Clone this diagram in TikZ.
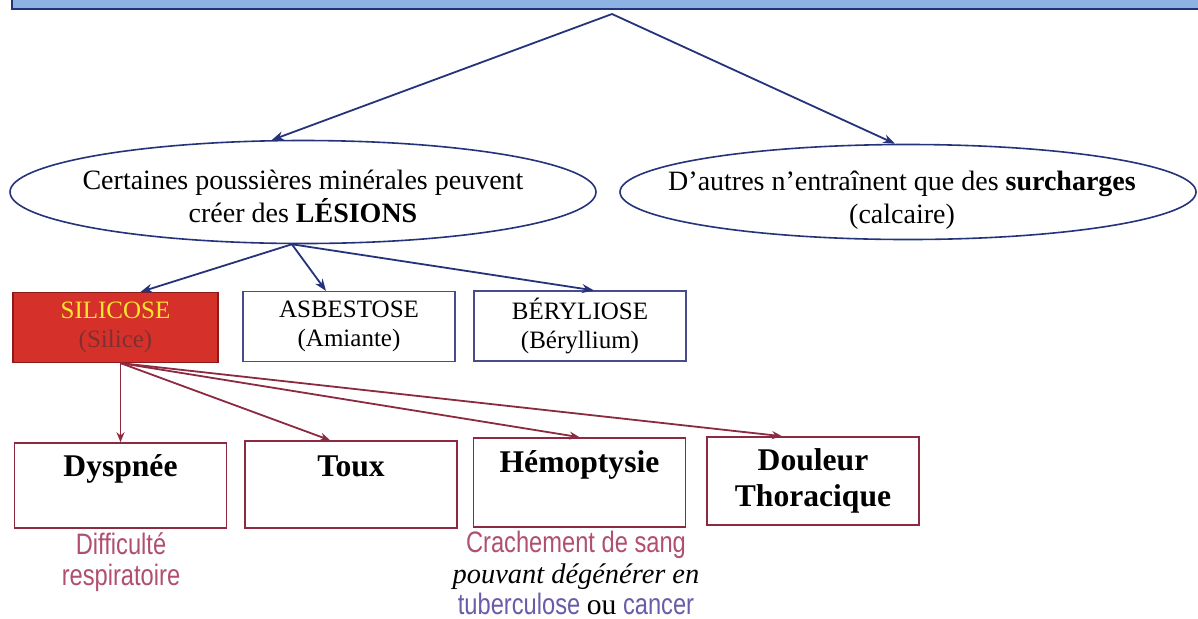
\documentclass[tikz,border=0pt]{standalone}
\usepackage{fontspec}
\setmainfont{Liberation Serif}
\newfontfamily\narrowsf[FakeStretch=0.8]{Liberation Sans}
\usetikzlibrary{shapes.geometric,arrows.meta,calc}
\definecolor{topfill}{HTML}{8DB3E2}
\definecolor{navy}{HTML}{25337A}
\definecolor{maroon}{HTML}{8B2A40}
\definecolor{silred}{HTML}{D6302A}
\definecolor{silborder}{HTML}{8B1A1A}
\definecolor{silyellow}{HTML}{F5E82A}
\definecolor{silbrown}{HTML}{7E3030}
\definecolor{boxblue}{HTML}{4A4A8E}
\definecolor{pinktext}{HTML}{B0506E}
\definecolor{purptext}{HTML}{6B5BA8}
\begin{document}
\begin{tikzpicture}[x=0.5pt,y=-0.5pt,
  ell/.style={ellipse,draw=navy,line width=0.8pt,inner sep=0pt},
  elltext/.style={align=center,inner sep=0pt,font=\fontsize{14}{16.5}\selectfont},
  bluearrow/.style={draw=navy,line width=0.9pt,-{Stealth[length=6pt,width=4.5pt]}},
  redarrow/.style={draw=maroon,line width=0.9pt,-{Stealth[length=5pt,width=4pt]}},
  disbox/.style={rectangle,draw=boxblue,line width=0.6pt,minimum width=106pt,minimum height=35pt,align=center,font=\fontsize{12.5}{14.5}\selectfont},
  symbox/.style={rectangle,draw=maroon,line width=0.8pt,minimum width=106pt,align=center,font=\bfseries\fontsize{15.8}{18}\selectfont},
  symlabel/.style={font=\bfseries\fontsize{15.8}{18}\selectfont},
  note/.style={align=center,inner sep=0pt,font=\narrowsf\fontsize{14.8}{15.3}\selectfont}]
\clip (0,0) rectangle (1198,618);
\fill[white] (0,0) rectangle (1198,618);
% top banner
\node[rectangle,draw=navy,fill=topfill,line width=1pt,minimum width=604pt,minimum height=15pt,inner sep=0pt] (top) at (616,-6) {};
\coordinate (apex) at (612,14);
% ellipses
\node[ell,minimum width=293pt,minimum height=51.5pt] (L) at (303,192) {};
\node[elltext] (Lt) at (303,196) {Certaines poussières minérales peuvent\\créer des \textbf{LÉSIONS}};
\node[ell,minimum width=288pt,minimum height=47.5pt] (R) at (908,192) {};
\node[elltext] (Rt) at (902,200) {D’autres n’entraînent que des \textbf{surcharges}\\(calcaire)};
\draw[bluearrow] (apex) -- (L.121);
\draw[bluearrow] (apex) -- (R.105);
% diseases
\node[disbox,fill=silred,draw=silborder,minimum width=102.5pt] (S) at (115.5,327.5) {\textcolor{silyellow}{SILICOSE}\\\textcolor{silbrown}{(Silice)}};
\node[disbox] (A) at (349,326.5) {ASBESTOSE\\(Amiante)};
\node[disbox] (B) at (580,326) {BÉRYLIOSE\\(Béryllium)};
\coordinate (Lb) at (L.258);
\draw[bluearrow] (Lb) -- ($(S.north)+(25,0)$);
\draw[bluearrow] (Lb) -- ($(A.north)+(-23,0)$);
\draw[bluearrow] (Lb) -- ($(B.north)+(14,0)$);
% symptoms
\node[symbox,minimum height=42.5pt] (D) at (120.5,485.5) {};
\node[symlabel] (Dt) at ($(D.north)+(0,27)$) {Dyspnée};
\node[symbox,minimum height=43.5pt] (T) at (351,484.5) {};
\node[symlabel] (Tt) at ($(T.north)+(0,26)$) {Toux};
\node[symbox,minimum height=44.5pt] (H) at (579.5,482.5) {};
\node[symlabel] (Ht) at ($(H.north)+(0,28)$) {Hémoptysie};
\node[symbox,minimum height=44pt] (Do) at (813,481) {Douleur\\Thoracique};
\coordinate (Sb) at ($(S.south)+(5,0)$);
\draw[redarrow] (Sb) -- (D.north);
\draw[redarrow] (Sb) -- ($(T.north)+(-21,0)$);
\draw[redarrow] (Sb) -- (H.north);
\draw[redarrow] (Sb) -- ($(Do.north)+(-31,0)$);
% notes
\node[note,text=pinktext] (n1) at (121,562) {Difficulté\\respiratoire};
\node[note,anchor=north] (n2) at (576,531) {\textcolor{pinktext}{Crachement de sang}\\{\rmfamily\itshape\fontsize{14.2}{15.3}\selectfont pouvant dégénérer en}\\\textcolor{purptext}{tuberculose} {\rmfamily ou} \textcolor{purptext}{cancer}};
\end{tikzpicture}
\end{document}
